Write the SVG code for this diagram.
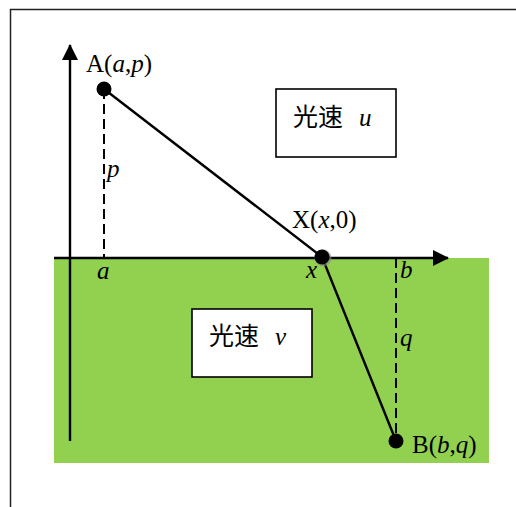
<svg xmlns="http://www.w3.org/2000/svg" width="516" height="507" viewBox="0 0 516 507">
<style>
.lbl{font-family:"Liberation Serif","Times New Roman",serif;font-size:25px;fill:#000}
.it{font-style:italic}
.cjk{font-family:"Noto Sans CJK SC","Noto Sans CJK JP",sans-serif;font-size:25px;fill:#000}
.solid{stroke:#000;stroke-width:2.4;fill:none}
.dash{stroke:#000;stroke-width:2;stroke-dasharray:10 5;fill:none}
.box{fill:#fff;stroke:#000;stroke-width:1.6}
</style>
<defs>
<marker id="arr" markerWidth="16" markerHeight="16" refX="15" refY="8" orient="auto" markerUnits="userSpaceOnUse">
<path d="M0,0 L16,8 L0,16 Z" fill="#000"/>
</marker>
</defs>
<rect width="516" height="507" fill="#fff"/>
<path d="M10.5,507 V9.5 H516" fill="none" stroke="#222" stroke-width="1.5"/>
<rect x="54" y="258" width="435" height="205" fill="#92D050"/>
<g id="connectors">
<line class="solid" x1="70" y1="441" x2="70" y2="45" marker-end="url(#arr)"/>
<line class="solid" x1="54" y1="258" x2="448" y2="258" marker-end="url(#arr)"/>
<line class="dash" x1="104" y1="89" x2="104" y2="258"/>
<line class="dash" x1="396" y1="258" x2="396" y2="441"/>
<line class="solid" x1="104" y1="89" x2="322" y2="257"/>
<line class="solid" x1="322" y1="257" x2="396" y2="441"/>
</g>
<g id="nodeA">
<circle cx="104" cy="89" r="7.5" fill="#000"/>
<text class="lbl" x="86" y="72">A(<tspan class="it">a</tspan>,<tspan class="it">p</tspan>)</text>
</g>
<g id="nodeX">
<circle cx="323" cy="258" r="8.5" fill="#888" opacity="0.6"/>
<circle cx="322" cy="257" r="7.5" fill="#000"/>
<text class="lbl" x="292" y="228">X(<tspan class="it">x</tspan>,0)</text>
</g>
<g id="nodeB">
<circle cx="396" cy="441" r="7.5" fill="#000"/>
<text class="lbl" x="412" y="453">B(<tspan class="it">b</tspan>,<tspan class="it">q</tspan>)</text>
</g>
<g id="labels">
<text class="lbl it" x="107" y="177">p</text>
<text class="lbl it" x="97" y="279">a</text>
<text class="lbl it" x="306" y="278">x</text>
<text class="lbl it" x="400" y="278">b</text>
<text class="lbl it" x="400" y="346">q</text>
</g>
<g id="boxU">
<rect class="box" x="276" y="89" width="120" height="68"/>
<text class="cjk" x="293" y="126">光速</text>
<text class="lbl it" x="359" y="126">u</text>
</g>
<g id="boxV">
<rect class="box" x="192" y="309" width="120" height="68"/>
<text class="cjk" x="209" y="345">光速</text>
<text class="lbl it" x="275" y="345">v</text>
</g>
</svg>
